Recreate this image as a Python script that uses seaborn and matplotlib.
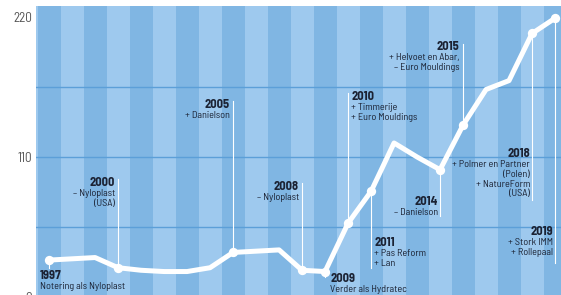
import matplotlib
matplotlib.use("Agg")
import matplotlib.pyplot as plt
import seaborn as sns
import pandas as pd

# ---- data ----
years = [1997, 1998, 1999, 2000, 2001, 2002, 2003, 2004, 2005, 2006, 2007,
         2008, 2009, 2010, 2011, 2012, 2013, 2014, 2015, 2016, 2017, 2018, 2019]
values = [29, 30, 31, 23, 21, 20, 20, 23, 35, 36, 37,
          21, 20, 58, 83, 121, 110, 100, 135, 163, 170, 207, 219]

ann_years = [1997, 2000, 2005, 2008, 2009, 2010, 2011, 2014, 2015, 2018, 2019]
ann_titles = ["1997", "2000", "2005", "2008", "2009", "2010", "2011", "2014", "2015", "2018", "2019"]
ann_texts = [
    "Notering als Nyloplast",
    "– Nyloplast\n(USA)",
    "+ Danielson",
    "– Nyloplast",
    "Verder als Hydratec",
    "+ Timmerije\n+ Euro Mouldings",
    "+ Pas Reform\n+ Lan",
    "– Danielson",
    "+ Helvoet en Abar,\n– Euro Mouldings",
    "+ Polmer en Partner\n(Polen)\n+ NatureForm\n(USA)",
    "+ Stork IMM\n+ Rollepaal",
]
ytick_vals = [0, 110, 220]
ytick_labels = ["0", "110", "220"]

# ---- layout (positions / styles) ----
ann_top = [20.4, 93.5, 154.8, 90.4, 18, 161, 46.4, 78.6, 200, 116, 55]
ann_ha = ["left", "right", "right", "right", "left", "left", "left", "right", "right", "right", "right"]
ann_dx = [-9, -3, -3, -3, 5, 3, 3, -2, -4, -2, -2]
ann_line_end = [23, 93, 154, 89.6, 15.7, 160, 22.8, 64, 199, 76, 27]

df = pd.DataFrame({"year": years, "value": values})
dfa = df[df["year"].isin(ann_years)]

DPI = 100
fig = plt.figure(figsize=(561 / DPI, 295 / DPI), dpi=DPI)
ax = fig.add_axes([36 / 561, -2 / 295, 525 / 561, 291 / 295])

dark = "#80b6e3"
light = "#9ec9ee"
ax.set_facecolor(light)
for yr in range(1996, 2021):
    col = dark if (yr - 1997) % 2 == 0 else light
    ax.axvspan(yr - 0.5, yr + 0.5, color=col, lw=0, zorder=0)
for gy in [55, 110, 165]:
    ax.axhline(gy, color="#5c9fd8", lw=1.0, zorder=1)

for yr, end in zip(ann_years, ann_line_end):
    v = values[years.index(yr)]
    ax.plot([yr, yr], [v, end], color="white", lw=0.8, zorder=2)

sns.lineplot(data=df, x="year", y="value", color="white", lw=3.6, ax=ax, zorder=3)
sns.scatterplot(data=dfa, x="year", y="value", color="white", s=45, edgecolor="white",
                linewidth=0, ax=ax, zorder=4)

txtc = "#1b2233"
fam = ["Barlow Semi Condensed", "DejaVu Sans"]
for yr, t, body, top, ha, dx in zip(ann_years, ann_titles, ann_texts, ann_top, ann_ha, ann_dx):
    ax.annotate(t, xy=(yr, top), xytext=(dx * 0.72, 1), textcoords="offset points",
                ha=ha, va="top", fontsize=9, fontweight="bold", color=txtc,
                family=fam, zorder=5, annotation_clip=False)
    ax.annotate(body, xy=(yr, top), xytext=(dx * 0.72, -11 * 0.72), textcoords="offset points",
                ha=ha, va="top", fontsize=7.3, color=txtc, family=fam,
                linespacing=1.1, multialignment=ha, zorder=5, annotation_clip=False)

ax.set_xlim(1996.43, 2019.26)
ax.set_ylim(0, 228.6)
ax.set_yticks(ytick_vals)
ax.set_yticklabels(ytick_labels, family=fam, fontsize=9.5, color="#555555")
ax.tick_params(axis="y", length=0, pad=3)
ax.set_xticks([])
ax.set_xlabel("")
ax.set_ylabel("")
for s in ax.spines.values():
    s.set_visible(False)

fig.savefig("out.png", dpi=DPI)
